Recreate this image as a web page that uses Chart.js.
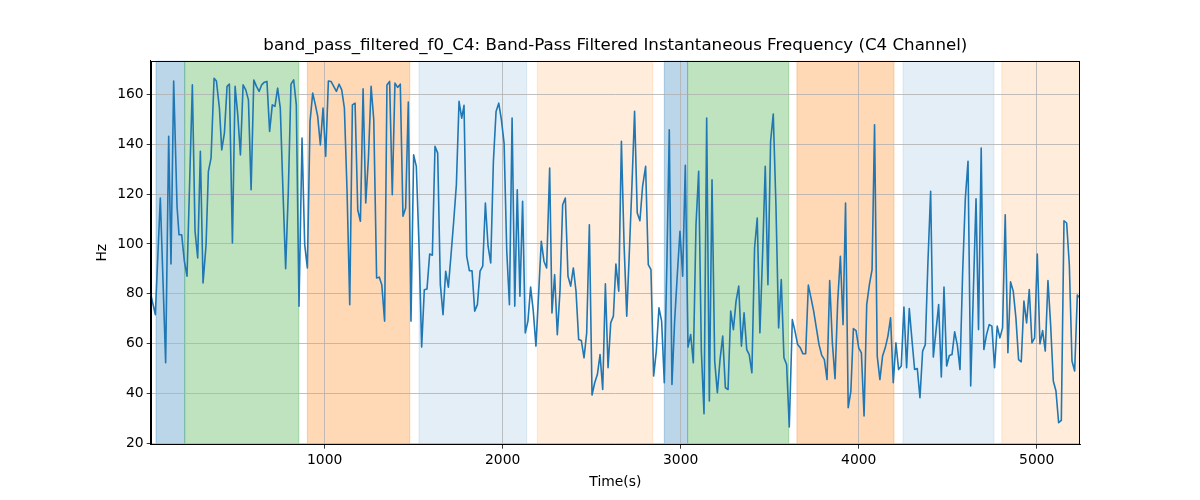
<!DOCTYPE html>
<html>
<head>
<meta charset="utf-8">
<script src="https://cdn.jsdelivr.net/npm/chart.js@4.4.0/dist/chart.umd.min.js"></script>
<style>
html,body{margin:0;padding:0;background:#fff;}
#wrap{width:1200px;height:500px;position:relative;}
</style>
</head>
<body>
<div id="wrap"><canvas id="c" width="1200" height="500"></canvas></div>
<script>
// ---- data ----
const times = [23,49,77,107,124,137,152,171,182,197,212,227,257,272,287,302,317,334,347,362,379,392,409,422,437,452,465,482,497,512,527,542,557,572,587,602,617,632,646,662,676,691,706,721,736,751,766,781,796,811,826,841,856,873,888,903,918,933,948,961,976,991,1006,1021,1036,1051,1066,1081,1096,1111,1126,1141,1156,1171,1186,1201,1216,1231,1246,1261,1276,1292,1307,1321,1337,1350,1365,1380,1395,1410,1425,1440,1455,1470,1485,1500,1515,1530,1545,1560,1575,1590,1605,1620,1635,1650,1665,1680,1695,1710,1725,1740,1755,1770,1783,1798,1813,1828,1843,1858,1873,1888,1903,1918,1933,1948,1963,1978,1993,2008,2023,2038,2053,2068,2082,2097,2112,2127,2142,2157,2172,2187,2217,2232,2247,2264,2277,2292,2307,2322,2337,2352,2367,2382,2397,2412,2427,2442,2457,2472,2487,2502,2517,2532,2547,2562,2577,2592,2607,2622,2636,2652,2667,2682,2697,2711,2726,2741,2756,2771,2786,2803,2818,2833,2848,2863,2878,2893,2908,2923,2936,2951,2966,2981,2996,3011,3026,3041,3056,3071,3086,3101,3116,3131,3146,3161,3176,3191,3206,3221,3236,3251,3266,3281,3296,3311,3326,3341,3356,3371,3385,3400,3415,3430,3445,3460,3475,3490,3505,3520,3535,3550,3565,3580,3595,3610,3627,3642,3657,3672,3687,3702,3717,3732,3747,3762,3777,3792,3807,3822,3837,3852,3867,3882,3897,3912,3926,3941,3956,3970,3985,4000,4015,4030,4045,4060,4075,4089,4104,4119,4134,4149,4164,4179,4194,4209,4224,4239,4254,4269,4284,4299,4314,4329,4344,4359,4374,4389,4404,4419,4434,4449,4464,4479,4494,4509,4524,4539,4554,4569,4584,4599,4614,4629,4644,4659,4673,4688,4703,4718,4733,4748,4763,4778,4793,4808,4823,4838,4853,4868,4883,4898,4913,4928,4943,4958,4973,4988,5003,5018,5033,5048,5063,5078,5093,5108,5123,5138,5153,5168,5183,5198,5213,5228,5243];
const freqHz = [80,71.7,118.4,52.4,143.1,92,165.3,115,103.7,103.7,93.1,87.1,163.7,105.1,94.4,137.1,84.4,99.7,129.1,134.4,166.4,165.3,154.4,137.7,144.4,163.1,164,100.4,163.1,151.7,135.7,163.7,161.7,157.7,121.7,165.7,163.1,161.1,163.7,164.8,165.1,145.1,155.7,155.1,162.4,154.4,121.1,90.1,121.1,164,165.7,155.7,75.1,142.4,99.7,90.4,149.1,160.4,155.7,151.1,139.7,154.4,135.1,165.3,165.1,163.1,161.1,164,161.7,154.4,121.1,75.7,155.7,156.4,113.7,109.1,162.1,116.4,134.4,163.1,149.7,86.4,86.7,83.7,69.1,163.7,165.1,119.7,164.4,162.7,164,111.1,114.4,156.8,69.1,135.7,131.1,99.7,58.7,81.7,82.0,96.0,95.5,139.1,136.4,83.7,71.7,89.1,82.7,95.7,109.1,123.7,157.1,150.4,155.5,95.1,89.3,89.3,73.1,75.7,89.1,91.1,116.4,99.1,92.4,133.1,153.1,156.4,149.7,140.4,97.1,75.7,150.4,75.1,121.7,79.1,117.1,64.4,69.1,82.7,73.1,59.1,101.1,93.1,90.4,130.4,72.4,87.7,63.7,81.1,115.7,118.4,87.1,83.1,90.4,81.1,61.7,61.3,54.4,64.4,107.7,39.5,44.4,47.7,55.7,41.7,84.0,50.4,68.4,71.1,92.0,81.1,141.1,99.7,71.1,95.7,123.1,153.1,112.4,109.3,123.1,131.1,91.7,89.7,47.1,57.1,74.4,69.1,44.4,94.4,145.7,43.7,69.1,87.7,105.1,87.1,131.5,58.7,63.7,52.4,107.7,129.1,57.1,32.0,150.4,37.1,125.7,53.1,40.4,53.7,63.1,42.4,41.7,73.1,65.7,77.1,83.1,59.1,72.4,57.7,55.7,48.4,98.4,110.4,64.4,95.7,131.1,83.7,141.1,152.0,115.7,66.4,85.7,54.4,51.7,26.7,69.7,65.1,59.7,58.4,56.0,56.0,83.5,78.4,73.1,66.4,59.7,55.5,53.7,45.7,85.3,60.4,46.0,77.1,95.1,67.7,116.4,34.4,41.1,66.1,65.3,58.4,56.4,31.1,75.7,83.7,89.7,147.7,55.1,45.7,55.1,58.4,63.1,70.4,44.4,60.4,49.7,51.1,74.7,50.4,74.1,61.7,49.7,50.1,38.4,57.1,59.7,93.1,121.1,54.7,65.1,75.7,46.7,82.7,51.1,55.3,55.7,64.8,59.5,49.7,89.1,118.4,133.1,43.1,81.1,118.1,65.7,138.4,57.7,63.7,67.7,67.1,50.4,67.1,62.4,66.4,111.7,56.4,84.8,81.1,70.4,53.7,52.8,77.1,68.4,81.7,60.4,62.4,96.0,60.0,65.3,57.1,85.3,67.7,45.1,41.1,28.4,29.3,109.3,108.4,91.7,53.1,49.1,79.5,78.4];
const xTicks = [1000, 2000, 3000, 4000, 5000];
const yTicks = [20, 40, 60, 80, 100, 120, 140, 160];
const spanStarts = [53, 214, 903, 1530, 2195, 2908, 3039, 3653, 4249, 4804];
const spanEnds   = [214, 855, 1478, 2135, 2843, 3039, 3607, 4198, 4760, 5400];
const spanColors = [
  'rgba(31,119,180,0.3)', 'rgba(44,160,44,0.3)', 'rgba(255,127,14,0.3)',
  'rgba(31,119,180,0.12)', 'rgba(255,127,14,0.15)',
  'rgba(31,119,180,0.3)', 'rgba(44,160,44,0.3)', 'rgba(255,127,14,0.3)',
  'rgba(31,119,180,0.12)', 'rgba(255,127,14,0.15)'
];
const titleText = 'band_pass_filtered_f0_C4: Band-Pass Filtered Instantaneous Frequency (C4 Channel)';

// ---- chart ----
const FONT = 'DejaVu Sans';
const points = times.map((t, i) => ({x: t, y: freqHz[i]}));

const spanPlugin = {
  id: 'spans',
  beforeDraw(chart) {
    const {ctx, chartArea: a, scales: {x}} = chart;
    ctx.save();
    ctx.beginPath();
    ctx.rect(a.left, a.top, a.right - a.left, a.bottom - a.top);
    ctx.clip();
    for (let i = 0; i < spanStarts.length; i++) {
      const x0 = x.getPixelForValue(spanStarts[i]);
      const x1 = x.getPixelForValue(spanEnds[i]);
      ctx.fillStyle = spanColors[i];
      ctx.fillRect(x0, a.top, x1 - x0, a.bottom - a.top);
      ctx.strokeStyle = spanColors[i];
      ctx.lineWidth = 1;
      ctx.strokeRect(x0, a.top, x1 - x0, a.bottom - a.top);
    }
    ctx.restore();
  },
  afterDraw(chart) {
    const {ctx, chartArea: a} = chart;
    ctx.save();
    ctx.strokeStyle = '#000';
    ctx.lineWidth = 1;
    ctx.strokeRect(Math.round(a.left) + 0.5, Math.round(a.top) + 0.5,
                   Math.round(a.right - a.left) - 1, Math.round(a.bottom - a.top) - 1);
    ctx.restore();
  }
};

new Chart(document.getElementById('c'), {
  type: 'line',
  data: {
    datasets: [{
      data: points,
      borderColor: '#1f77b4',
      borderWidth: 1.6,
      pointRadius: 0,
      tension: 0,
      fill: false,
      borderJoinStyle: 'round'
    }]
  },
  options: {
    responsive: false,
    animation: false,
    devicePixelRatio: 1,
    parsing: false,
    layout: {padding: {left: 90, right: 120, top: 0, bottom: 5}},
    plugins: {
      legend: {display: false},
      tooltip: {enabled: false},
      title: {
        display: true,
        text: titleText,
        fullSize: false,
        color: '#000',
        font: {family: FONT, size: 16.67, weight: 'normal'},
        padding: {top: 36, bottom: 4.7}
      }
    },
    scales: {
      x: {
        type: 'linear',
        min: 23,
        max: 5243,
        afterBuildTicks(s) { s.ticks = xTicks.map(v => ({value: v})); },
        afterFit(s) { s.height = 50.3; },
        ticks: {
          color: '#000',
          font: {family: FONT, size: 13.89},
          padding: 3,
          maxRotation: 0,
          autoSkip: false,
          callback: v => String(v)
        },
        grid: {color: '#b0b0b0', lineWidth: 0.8, tickLength: 4, tickColor: '#000', tickWidth: 0.8},
        border: {display: true, color: '#000', width: 1},
        title: {display: true, text: 'Time(s)', color: '#000', font: {family: FONT, size: 13.89}, padding: {top: 4, bottom: 4}}
      },
      y: {
        type: 'linear',
        min: 19.6,
        max: 173.4,
        afterBuildTicks(s) { s.ticks = yTicks.map(v => ({value: v})); },
        afterFit(s) { s.width = 60.7; },
        ticks: {
          color: '#000',
          font: {family: FONT, size: 13.89},
          padding: 3,
          autoSkip: false,
          callback: v => String(v)
        },
        grid: {color: '#b0b0b0', lineWidth: 0.8, tickLength: 4, tickColor: '#000', tickWidth: 0.8},
        border: {display: true, color: '#000', width: 1},
        title: {display: true, text: 'Hz', color: '#000', font: {family: FONT, size: 13.89}, padding: {top: 4, bottom: 4}}
      }
    }
  },
  plugins: [spanPlugin]
});
</script>
</body>
</html>
